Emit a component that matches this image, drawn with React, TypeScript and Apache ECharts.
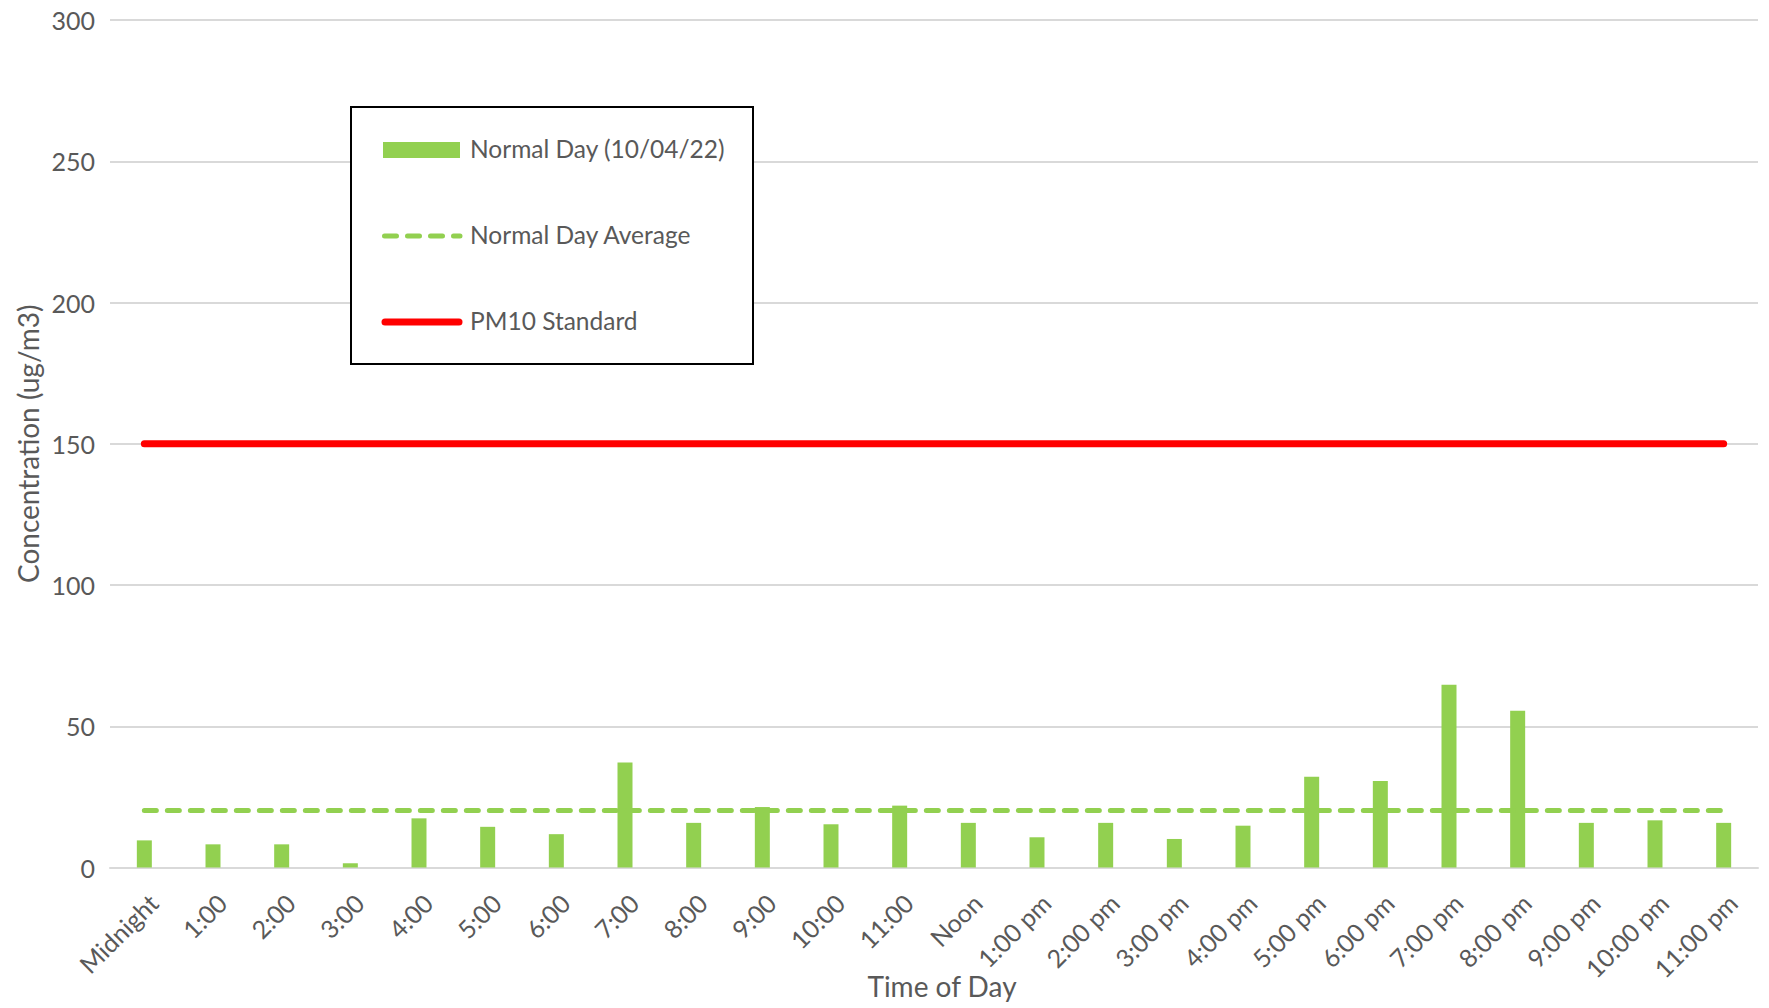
import React, { useEffect, useRef } from "react";
import * as echarts from "echarts";

const hours = [
  "Midnight", "1:00", "2:00", "3:00", "4:00", "5:00", "6:00", "7:00", "8:00", "9:00", "10:00", "11:00",
  "Noon", "1:00 pm", "2:00 pm", "3:00 pm", "4:00 pm", "5:00 pm", "6:00 pm", "7:00 pm", "8:00 pm", "9:00 pm", "10:00 pm", "11:00 pm",
];
const normalDay = [
  9.6, 8.2, 8.2, 1.5, 17.4, 14.4, 11.8, 37.2, 15.8, 21.4, 15.3, 21.9,
  15.8, 10.7, 15.8, 10.1, 14.8, 32.1, 30.6, 64.7, 55.5, 15.8, 16.7, 15.8,
];
const normalDayAverage = [
  20.2, 20.2, 20.2, 20.2, 20.2, 20.2, 20.2, 20.2, 20.2, 20.2, 20.2, 20.2,
  20.2, 20.2, 20.2, 20.2, 20.2, 20.2, 20.2, 20.2, 20.2, 20.2, 20.2, 20.2,
];
const pm10Standard = [
  150, 150, 150, 150, 150, 150, 150, 150, 150, 150, 150, 150,
  150, 150, 150, 150, 150, 150, 150, 150, 150, 150, 150, 150,
];
const seriesNames = ["Normal Day (10/04/22)", "Normal Day Average", "PM10 Standard"];
const yTicks = { min: 0, max: 300, interval: 50 };

const TEXT = "#595959";
const FONT = "Lato";
const GREEN = "#92D050";
const RED = "#FF0000";

export default function App() {
  const ref = useRef<HTMLDivElement>(null);
  useEffect(() => {
    if (!ref.current) return;
    const chart = echarts.init(ref.current, null, { renderer: "svg" });
    const legendText = (text: string, y: number) => ({
      type: "text",
      x: 470,
      y,
      z: 101,
      style: { text, fill: TEXT, font: `24.5px ${FONT}`, verticalAlign: "middle", align: "left" },
    });
    chart.setOption({
      animation: false,
      backgroundColor: "#ffffff",
      textStyle: { fontFamily: FONT, color: TEXT },
      grid: {
        left: 110,
        right: 11,
        top: 20,
        bottom: 140.5,
        containLabel: false,
        outerBoundsMode: "none",
      },
      legend: { show: false },
      graphic: [
        {
          type: "rect",
          z: 100,
          shape: { x: 351, y: 107, width: 402, height: 257 },
          style: { fill: "#ffffff", stroke: "#000000", lineWidth: 2 },
        },
        {
          type: "rect",
          z: 101,
          shape: { x: 383, y: 142, width: 77, height: 16 },
          style: { fill: GREEN },
        },
        {
          type: "line",
          z: 101,
          shape: { x1: 384.5, y1: 236, x2: 460, y2: 236 },
          style: { stroke: GREEN, lineWidth: 5, lineDash: [12, 11], lineCap: "round" },
        },
        {
          type: "line",
          z: 101,
          shape: { x1: 385, y1: 322, x2: 459, y2: 322 },
          style: { stroke: RED, lineWidth: 7, lineCap: "round" },
        },
        legendText(seriesNames[0], 148),
        legendText(seriesNames[1], 234),
        legendText(seriesNames[2], 320),
      ],
      xAxis: {
        type: "category",
        data: hours,
        boundaryGap: true,
        name: "Time of Day",
        nameLocation: "middle",
        nameGap: 104,
        nameMoveOverlap: false,
        nameTextStyle: { fontFamily: FONT, fontSize: 28, color: TEXT, padding: [0, 0, 0, 16] },
        axisLine: { show: true, lineStyle: { color: "#D9D9D9", width: 2 } },
        axisTick: { show: false },
        axisLabel: {
          rotate: 45,
          fontFamily: FONT,
          fontSize: 25,
          color: TEXT,
          margin: 22,
          interval: 0,
          verticalAlign: "top",
        },
      },
      yAxis: {
        type: "value",
        min: yTicks.min,
        max: yTicks.max,
        interval: yTicks.interval,
        name: "Concentration (ug/m3)",
        nameLocation: "middle",
        nameGap: 68,
        nameMoveOverlap: false,
        nameTextStyle: { fontFamily: FONT, fontSize: 28, color: TEXT },
        axisLine: { show: false },
        axisTick: { show: false },
        axisLabel: { fontFamily: FONT, fontSize: 25, color: TEXT, margin: 15 },
        splitLine: { show: true, lineStyle: { color: "#D9D9D9", width: 2 } },
      },
      series: [
        {
          name: seriesNames[0],
          type: "bar",
          data: normalDay,
          barWidth: 15,
          itemStyle: { color: GREEN },
          z: 2,
        },
        {
          name: seriesNames[1],
          type: "line",
          data: normalDayAverage,
          symbol: "none",
          showSymbol: false,
          itemStyle: { color: GREEN },
          lineStyle: { color: GREEN, width: 5, type: [12, 11], cap: "round" },
          z: 3,
        },
        {
          name: seriesNames[2],
          type: "line",
          data: pm10Standard,
          symbol: "none",
          showSymbol: false,
          itemStyle: { color: RED },
          lineStyle: { color: RED, width: 7, cap: "round" },
          z: 3,
        },
      ],
    });
    return () => chart.dispose();
  }, []);
  return (
    <div
      ref={ref}
      style={{ position: "absolute", left: 0, top: 0, width: 1769, height: 1008 }}
    />
  );
}
